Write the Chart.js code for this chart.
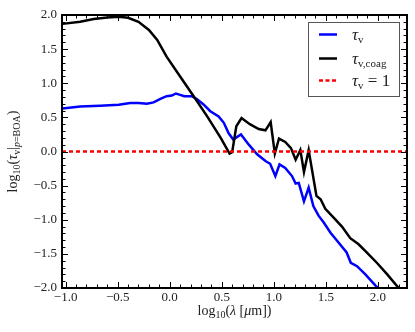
<!DOCTYPE html>
<html>
<head>
<meta charset="utf-8">
<script src="https://cdn.jsdelivr.net/npm/chart.js@4"></script>
<style>
  body { margin: 0; background: #fff; }
  canvas { display: block; }
</style>
</head>
<body>
<canvas id="chart" width="415" height="332"></canvas>
<script>
// log10(lambda [um]) and log10(tau_v)
var tauX = [-1.03, -0.86, -0.67, -0.49, -0.38, -0.30, -0.22, -0.155, -0.09, -0.03, 0.02, 0.06, 0.10, 0.14, 0.21, 0.26, 0.325, 0.39, 0.47, 0.52, 0.565, 0.61, 0.645, 0.685, 0.76, 0.84, 0.92, 0.965, 1.015, 1.055, 1.11, 1.175, 1.21, 1.24, 1.29, 1.335, 1.38, 1.43, 1.48, 1.545, 1.62, 1.70, 1.74, 1.80, 1.88, 1.98, 2.00];
var tauY = [0.63, 0.66, 0.67, 0.685, 0.71, 0.71, 0.70, 0.72, 0.77, 0.81, 0.82, 0.85, 0.83, 0.81, 0.81, 0.77, 0.69, 0.59, 0.515, 0.42, 0.27, 0.175, 0.21, 0.25, 0.10, -0.04, -0.14, -0.18, -0.36, -0.19, -0.24, -0.36, -0.47, -0.46, -0.73, -0.53, -0.80, -0.94, -1.04, -1.19, -1.33, -1.48, -1.63, -1.68, -1.80, -1.97, -2.0];

var coagX = [-1.03, -0.86, -0.73, -0.60, -0.49, -0.40, -0.30, -0.20, -0.12, -0.03, 0.10, 0.23, 0.36, 0.49, 0.575, 0.60, 0.64, 0.69, 0.77, 0.855, 0.92, 0.97, 1.01, 1.05, 1.11, 1.165, 1.21, 1.255, 1.29, 1.335, 1.41, 1.45, 1.495, 1.575, 1.655, 1.735, 1.815, 1.895, 1.99, 2.09, 2.20];
var coagY = [1.87, 1.90, 1.94, 1.965, 1.975, 1.96, 1.90, 1.78, 1.635, 1.39, 1.10, 0.81, 0.515, 0.20, -0.03, -0.01, 0.37, 0.49, 0.40, 0.33, 0.31, 0.43, -0.03, 0.19, 0.14, 0.05, -0.12, 0.02, -0.30, 0.02, -0.65, -0.70, -0.84, -0.97, -1.10, -1.27, -1.36, -1.48, -1.63, -1.80, -2.0];

var unityY = 0; // tau_v = 1

var xMin = -1.035, xMax = 2.28;
var yMin = -2, yMax = 2;
var xTickValues = [-1, -0.5, 0, 0.5, 1, 1.5, 2];
var xTickLabels = ["\u22121.0", "\u22120.5", "0.0", "0.5", "1.0", "1.5", "2.0"];
var yTickValues = [-2, -1.5, -1, -0.5, 0, 0.5, 1, 1.5, 2];
var yTickLabels = ["\u22122.0", "\u22121.5", "\u22121.0", "\u22120.5", "0.0", "0.5", "1.0", "1.5", "2.0"];

var SERIF = '"Liberation Serif", "DejaVu Serif", serif';

function pts(xs, ys) {
  return xs.map(function (x, i) { return { x: x, y: ys[i] }; });
}

function labelFor(values, labels) {
  return function (v) {
    var i = values.findIndex(function (t) { return Math.abs(t - v) < 1e-9; });
    return i < 0 ? '' : labels[i];
  };
}

// text with subscripts: parts = [[text, style]], style r|i|s|si
function richFont(style, size, subSize) {
  var sub = style.charAt(0) === 's';
  var it = style.indexOf('i') >= 0;
  return (it ? 'italic ' : '') + (sub ? subSize : size) + 'px ' + SERIF;
}
function richWidth(ctx, parts, size, subSize) {
  var w = 0;
  parts.forEach(function (p) { ctx.font = richFont(p[1], size, subSize); w += ctx.measureText(p[0]).width; });
  return w;
}
function drawRich(ctx, parts, x, y, size, subSize, drop) {
  ctx.textBaseline = 'alphabetic';
  ctx.textAlign = 'left';
  parts.forEach(function (p) {
    ctx.font = richFont(p[1], size, subSize);
    ctx.fillText(p[0], x, p[1].charAt(0) === 's' ? y + drop : y);
    x += ctx.measureText(p[0]).width;
  });
}

var decor = {
  id: 'decor',
  afterDraw: function (chart) {
    var ctx = chart.ctx, a = chart.chartArea;
    var xs = chart.scales.x, ys = chart.scales.y;
    ctx.save();
    ctx.strokeStyle = '#000';
    ctx.lineWidth = 1;
    ctx.beginPath();
    for (var i = -10; i <= 22; i++) {
      var px = Math.round(xs.getPixelForValue(i / 10)) + 0.5;
      var len = i % 5 === 0 ? 6 : 3.5;
      ctx.moveTo(px, a.bottom); ctx.lineTo(px, a.bottom - len);
      ctx.moveTo(px, a.top); ctx.lineTo(px, a.top + len);
    }
    for (var j = -20; j <= 20; j++) {
      var py = Math.round(ys.getPixelForValue(j / 10)) + 0.5;
      var l2 = j % 5 === 0 ? 6 : 3.5;
      ctx.moveTo(a.left, py); ctx.lineTo(a.left + l2, py);
      ctx.moveTo(a.right, py); ctx.lineTo(a.right - l2, py);
    }
    ctx.stroke();

    ctx.lineWidth = 2;
    ctx.strokeRect(a.left, a.top, a.right - a.left, a.bottom - a.top);

    // axis titles
    ctx.fillStyle = '#222';
    var xt = [['log', 'r'], ['10', 's'], ['(', 'r'], ['\u03bb', 'i'], [' [', 'r'], ['\u03bc', 'i'], ['m])', 'r']];
    var w = richWidth(ctx, xt, 14, 10);
    drawRich(ctx, xt, (a.left + a.right) / 2 - w / 2, 315, 14, 10, 3);

    var yt = [['log', 'r'], ['10', 's'], ['(', 'r'], ['\u03c4', 'i'], ['v', 's'], ['|', 'r'], ['p', 'si'], ['=BOA', 's'], [')', 'r']];
    var wy = richWidth(ctx, yt, 14, 10);
    ctx.save();
    ctx.translate(17, (a.top + a.bottom) / 2);
    ctx.rotate(-Math.PI / 2);
    drawRich(ctx, yt, -wy / 2, 0, 14, 10, 3);
    ctx.restore();

    // legend
    ctx.fillStyle = '#fff';
    ctx.fillRect(308.5, 22.5, 91, 74);
    ctx.strokeStyle = '#555';
    ctx.lineWidth = 1;
    ctx.strokeRect(308.5, 22.5, 91, 74);
    var rows = [
      { c: '#0000ff', dash: [], y: 34.5, t: [['\u03c4', 'i'], ['v', 's']] },
      { c: '#000000', dash: [], y: 58.5, t: [['\u03c4', 'i'], ['v,coag', 's']] },
      { c: '#ff0000', dash: [4, 2.5], y: 80.5, t: [['\u03c4', 'i'], ['v', 's'], [' = 1', 'r']] }
    ];
    rows.forEach(function (r) {
      ctx.strokeStyle = r.c;
      ctx.lineWidth = 2.5;
      ctx.setLineDash(r.dash);
      ctx.beginPath();
      ctx.moveTo(319, r.y); ctx.lineTo(337, r.y);
      ctx.stroke();
      ctx.setLineDash([]);
      ctx.fillStyle = '#222';
      drawRich(ctx, r.t, 352, r.y + 5.5, 17, 11, 2.5);
    });
    ctx.restore();
  }
};

new Chart('chart', {
  type: 'scatter',
  data: {
    datasets: [{
      label: 'tau_v',
      data: pts(tauX, tauY),
      showLine: true,
      borderColor: '#0000ff',
      borderWidth: 2.5,
      pointRadius: 0,
      order: 3
    }, {
      label: 'tau_v,coag',
      data: pts(coagX, coagY),
      showLine: true,
      borderColor: '#000000',
      borderWidth: 2.5,
      pointRadius: 0,
      order: 2
    }, {
      label: 'tau_v = 1',
      data: [{ x: xMin, y: unityY }, { x: xMax, y: unityY }],
      showLine: true,
      borderColor: '#ff0000',
      borderWidth: 2.5,
      borderDash: [4, 3],
      pointRadius: 0,
      order: 1
    }]
  },
  options: {
    responsive: false,
    animation: false,
    devicePixelRatio: 1,
    layout: { padding: { left: 0, right: 8, top: 15, bottom: 0 } },
    plugins: { legend: { display: false }, tooltip: { enabled: false } },
    scales: {
      x: {
        type: 'linear',
        min: xMin,
        max: xMax,
        afterBuildTicks: function (s) { s.ticks = xTickValues.map(function (v) { return { value: v }; }); },
        afterFit: function (s) { s.height = 44; },
        grid: { display: false, drawTicks: false },
        border: { display: false },
        ticks: {
          callback: labelFor(xTickValues, xTickLabels),
          font: { family: SERIF, size: 13 },
          color: '#222',
          padding: 2,
          maxRotation: 0,
          autoSkip: false
        }
      },
      y: {
        min: yMin,
        max: yMax,
        afterBuildTicks: function (s) { s.ticks = yTickValues.map(function (v) { return { value: v }; }); },
        afterFit: function (s) { s.width = 62; },
        grid: { display: false, drawTicks: false },
        border: { display: false },
        ticks: {
          callback: labelFor(yTickValues, yTickLabels),
          font: { family: SERIF, size: 13 },
          color: '#222',
          padding: 5,
          autoSkip: false
        }
      }
    }
  },
  plugins: [decor]
});
</script>
</body>
</html>
